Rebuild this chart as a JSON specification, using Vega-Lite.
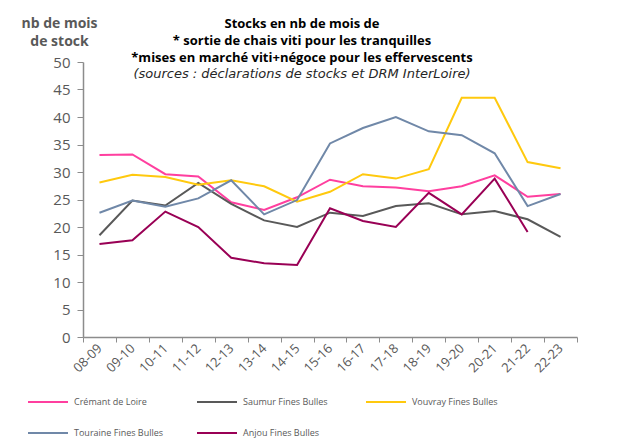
{
  "$schema": "https://vega.github.io/schema/vega-lite/v6.json",
  "autosize": "none",
  "width": 494,
  "height": 275,
  "padding": {"left": 83, "top": 62, "right": 56, "bottom": 106},
  "background": "white",
  "config": {
    "font": "Open Sans",
    "view": {"stroke": null}
  },
  "title": {
    "text": ["Stocks en nb de mois de", "* sortie de chais viti pour les tranquilles", "*mises en marché viti+négoce pour les effervescents"],
    "subtitle": "(sources : déclarations de stocks et DRM InterLoire)",
    "anchor": "middle",
    "frame": "group",
    "dx": -28,
    "offset": -65,
    "fontSize": 13,
    "fontWeight": "bold",
    "color": "#000000",
    "lineHeight": 17,
    "subtitleFontSize": 13,
    "subtitleFontStyle": "italic",
    "subtitleFont": "DejaVu Sans",
    "subtitleColor": "#262626",
    "subtitlePadding": 3,
    "subtitleLineHeight": 16
  },
  "data": {
    "values": [
      {"season": "08-09", "series": "Crémant de Loire", "value": 33.1},
      {"season": "09-10", "series": "Crémant de Loire", "value": 33.2},
      {"season": "10-11", "series": "Crémant de Loire", "value": 29.6},
      {"season": "11-12", "series": "Crémant de Loire", "value": 29.2},
      {"season": "12-13", "series": "Crémant de Loire", "value": 24.5},
      {"season": "13-14", "series": "Crémant de Loire", "value": 23.1},
      {"season": "14-15", "series": "Crémant de Loire", "value": 25.4},
      {"season": "15-16", "series": "Crémant de Loire", "value": 28.6},
      {"season": "16-17", "series": "Crémant de Loire", "value": 27.4},
      {"season": "17-18", "series": "Crémant de Loire", "value": 27.2},
      {"season": "18-19", "series": "Crémant de Loire", "value": 26.5},
      {"season": "19-20", "series": "Crémant de Loire", "value": 27.4},
      {"season": "20-21", "series": "Crémant de Loire", "value": 29.4},
      {"season": "21-22", "series": "Crémant de Loire", "value": 25.5},
      {"season": "22-23", "series": "Crémant de Loire", "value": 26.0},
      {"season": "08-09", "series": "Saumur Fines Bulles", "value": 18.5},
      {"season": "09-10", "series": "Saumur Fines Bulles", "value": 24.8},
      {"season": "10-11", "series": "Saumur Fines Bulles", "value": 23.9},
      {"season": "11-12", "series": "Saumur Fines Bulles", "value": 28.0},
      {"season": "12-13", "series": "Saumur Fines Bulles", "value": 24.2},
      {"season": "13-14", "series": "Saumur Fines Bulles", "value": 21.2},
      {"season": "14-15", "series": "Saumur Fines Bulles", "value": 20.0},
      {"season": "15-16", "series": "Saumur Fines Bulles", "value": 22.6},
      {"season": "16-17", "series": "Saumur Fines Bulles", "value": 22.0},
      {"season": "17-18", "series": "Saumur Fines Bulles", "value": 23.8},
      {"season": "18-19", "series": "Saumur Fines Bulles", "value": 24.3},
      {"season": "19-20", "series": "Saumur Fines Bulles", "value": 22.3},
      {"season": "20-21", "series": "Saumur Fines Bulles", "value": 22.9},
      {"season": "21-22", "series": "Saumur Fines Bulles", "value": 21.4},
      {"season": "22-23", "series": "Saumur Fines Bulles", "value": 18.2},
      {"season": "08-09", "series": "Vouvray Fines Bulles", "value": 28.1},
      {"season": "09-10", "series": "Vouvray Fines Bulles", "value": 29.5},
      {"season": "10-11", "series": "Vouvray Fines Bulles", "value": 29.1},
      {"season": "11-12", "series": "Vouvray Fines Bulles", "value": 27.7},
      {"season": "12-13", "series": "Vouvray Fines Bulles", "value": 28.5},
      {"season": "13-14", "series": "Vouvray Fines Bulles", "value": 27.4},
      {"season": "14-15", "series": "Vouvray Fines Bulles", "value": 24.6},
      {"season": "15-16", "series": "Vouvray Fines Bulles", "value": 26.4},
      {"season": "16-17", "series": "Vouvray Fines Bulles", "value": 29.6},
      {"season": "17-18", "series": "Vouvray Fines Bulles", "value": 28.8},
      {"season": "18-19", "series": "Vouvray Fines Bulles", "value": 30.5},
      {"season": "19-20", "series": "Vouvray Fines Bulles", "value": 43.5},
      {"season": "20-21", "series": "Vouvray Fines Bulles", "value": 43.5},
      {"season": "21-22", "series": "Vouvray Fines Bulles", "value": 31.8},
      {"season": "22-23", "series": "Vouvray Fines Bulles", "value": 30.7},
      {"season": "08-09", "series": "Touraine Fines Bulles", "value": 22.6},
      {"season": "09-10", "series": "Touraine Fines Bulles", "value": 24.8},
      {"season": "10-11", "series": "Touraine Fines Bulles", "value": 23.7},
      {"season": "11-12", "series": "Touraine Fines Bulles", "value": 25.2},
      {"season": "12-13", "series": "Touraine Fines Bulles", "value": 28.5},
      {"season": "13-14", "series": "Touraine Fines Bulles", "value": 22.3},
      {"season": "14-15", "series": "Touraine Fines Bulles", "value": 24.9},
      {"season": "15-16", "series": "Touraine Fines Bulles", "value": 35.2},
      {"season": "16-17", "series": "Touraine Fines Bulles", "value": 38.0},
      {"season": "17-18", "series": "Touraine Fines Bulles", "value": 40.0},
      {"season": "18-19", "series": "Touraine Fines Bulles", "value": 37.4},
      {"season": "19-20", "series": "Touraine Fines Bulles", "value": 36.7},
      {"season": "20-21", "series": "Touraine Fines Bulles", "value": 33.4},
      {"season": "21-22", "series": "Touraine Fines Bulles", "value": 23.8},
      {"season": "22-23", "series": "Touraine Fines Bulles", "value": 26.0},
      {"season": "08-09", "series": "Anjou Fines Bulles", "value": 16.9},
      {"season": "09-10", "series": "Anjou Fines Bulles", "value": 17.6},
      {"season": "10-11", "series": "Anjou Fines Bulles", "value": 22.8},
      {"season": "11-12", "series": "Anjou Fines Bulles", "value": 20.0},
      {"season": "12-13", "series": "Anjou Fines Bulles", "value": 14.4},
      {"season": "13-14", "series": "Anjou Fines Bulles", "value": 13.4},
      {"season": "14-15", "series": "Anjou Fines Bulles", "value": 13.1},
      {"season": "15-16", "series": "Anjou Fines Bulles", "value": 23.4},
      {"season": "16-17", "series": "Anjou Fines Bulles", "value": 21.1},
      {"season": "17-18", "series": "Anjou Fines Bulles", "value": 20.0},
      {"season": "18-19", "series": "Anjou Fines Bulles", "value": 26.2},
      {"season": "19-20", "series": "Anjou Fines Bulles", "value": 22.3},
      {"season": "20-21", "series": "Anjou Fines Bulles", "value": 28.8},
      {"season": "21-22", "series": "Anjou Fines Bulles", "value": 19.1}
    ]
  },
  "mark": {"type": "line", "strokeWidth": 2},
  "encoding": {
    "x": {
      "field": "season",
      "type": "ordinal",
      "bandPosition": 0.5,
      "scale": {"type": "band", "paddingInner": 0, "paddingOuter": 0},
      "axis": {
        "title": null,
        "tickBand": "extent",
        "labelAngle": -45,
        "labelAlign": "right",
        "labelBaseline": "middle",
        "labelFontSize": 13,
        "labelColor": "#595959",
        "labelPadding": 4,
        "domainColor": "#8c8c8c",
        "tickColor": "#8c8c8c",
        "tickSize": 5,
        "domainWidth": 1.5,
        "grid": false
      }
    },
    "y": {
      "field": "value",
      "type": "quantitative",
      "scale": {"domain": [0, 50], "nice": false},
      "axis": {
        "values": [0, 5, 10, 15, 20, 25, 30, 35, 40, 45, 50],
        "grid": false,
        "title": ["nb de mois", "de stock"],
        "titleAngle": 0,
        "titleX": -24,
        "titleY": -46,
        "titleAlign": "center",
        "titleBaseline": "top",
        "titleFontSize": 14,
        "titleFontWeight": "bold",
        "titleColor": "#595959",
        "titleLineHeight": 18,
        "labelFontSize": 15,
        "labelColor": "#595959",
        "labelPadding": 7,
        "domainColor": "#8c8c8c",
        "tickColor": "#8c8c8c",
        "tickSize": 6,
        "domainWidth": 1.5
      }
    },
    "color": {
      "field": "series",
      "type": "nominal",
      "scale": {
        "domain": ["Crémant de Loire", "Saumur Fines Bulles", "Vouvray Fines Bulles", "Touraine Fines Bulles", "Anjou Fines Bulles"],
        "range": ["#ff3f9f", "#595959", "#ffc90e", "#7088a8", "#990055"]
      },
      "legend": {
        "title": null,
        "orient": "none",
        "legendX": -56,
        "legendY": 319,
        "direction": "horizontal",
        "columns": 3,
        "gridAlign": "all",
        "symbolType": "stroke",
        "symbolSize": 1600,
        "symbolStrokeWidth": 2,
        "labelFontSize": 9,
        "labelColor": "#595959",
        "labelOffset": 5,
        "columnPadding": 29,
        "rowPadding": 5
      }
    }
  }
}
